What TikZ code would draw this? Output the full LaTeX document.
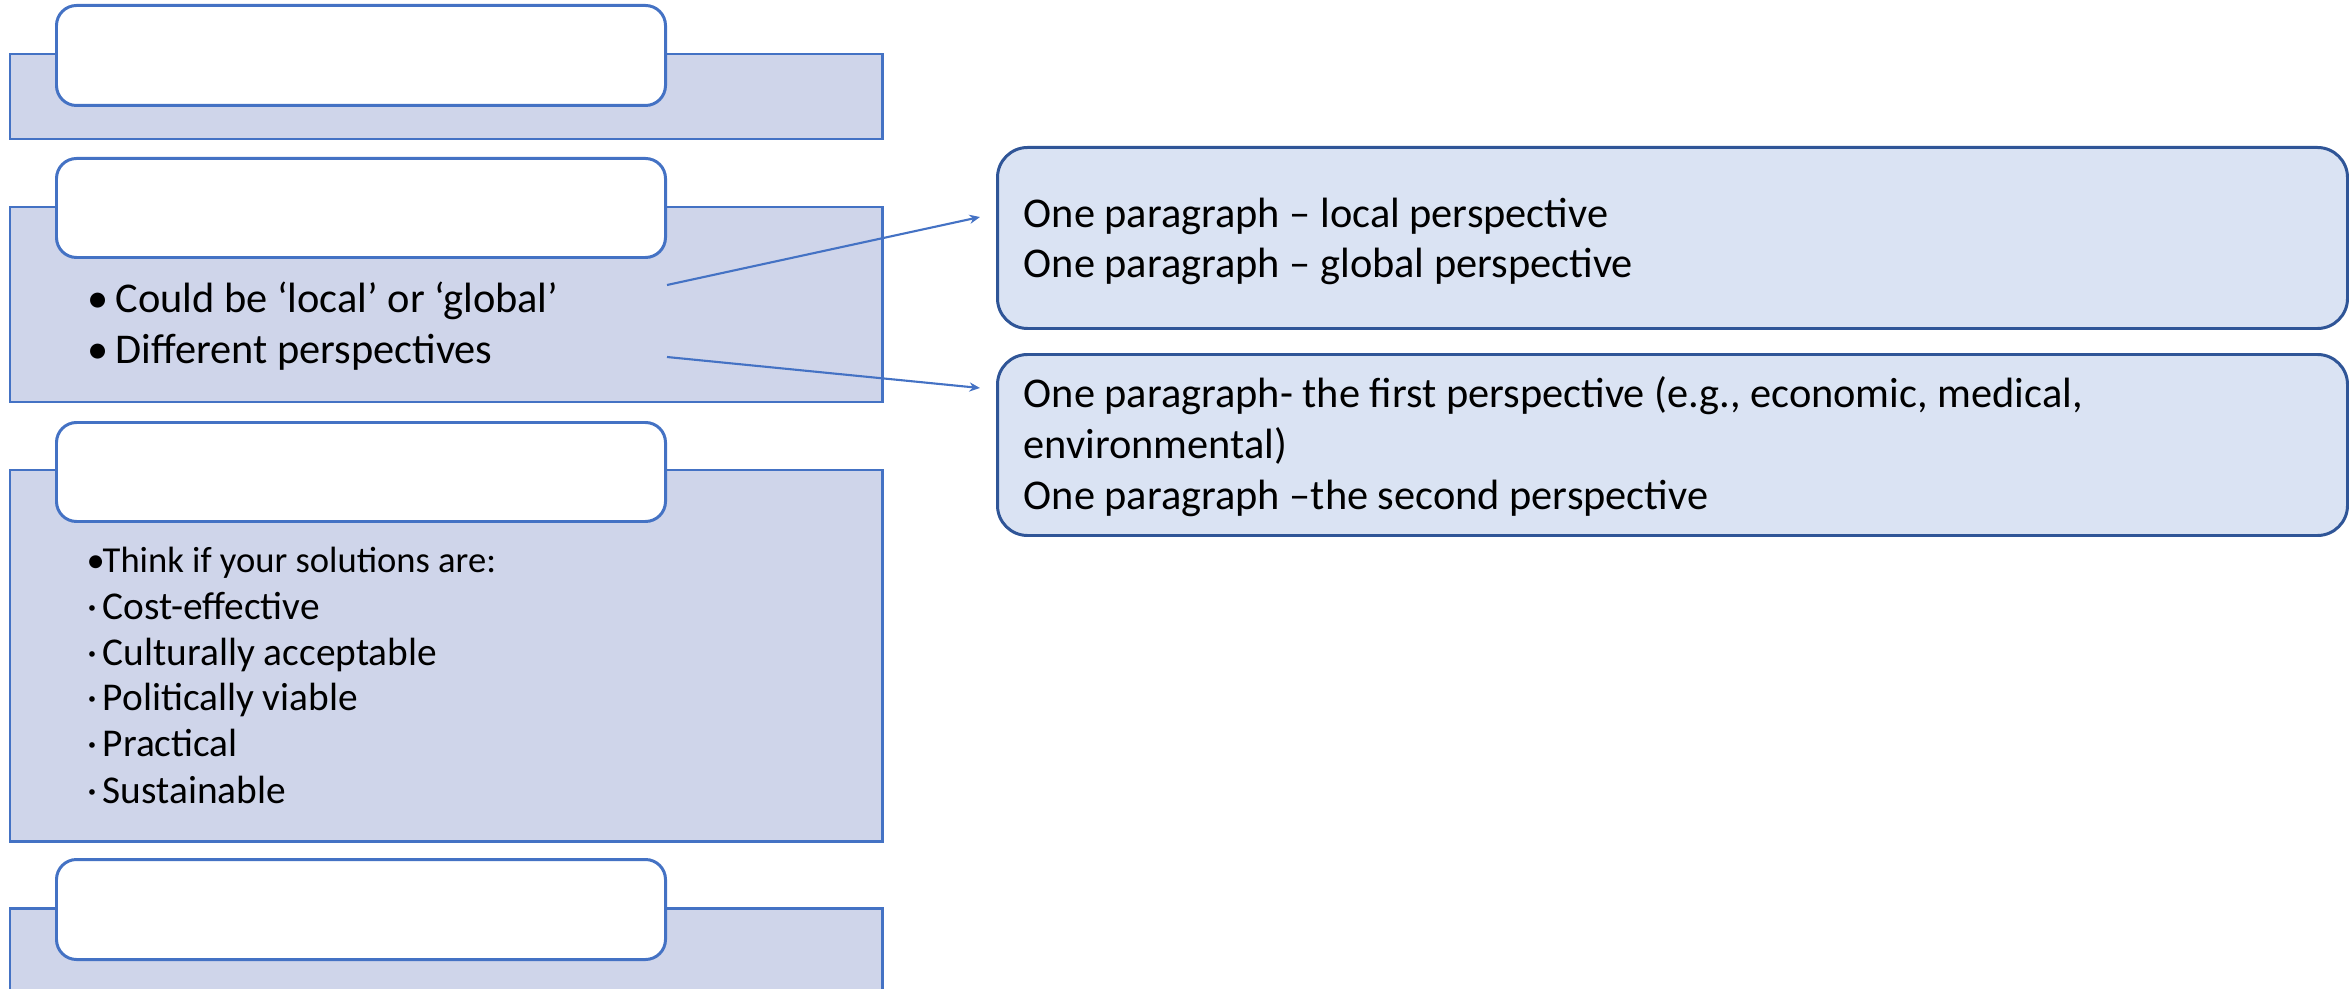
\documentclass[tikz,border=0pt]{standalone}
\usepackage{fontspec}
\setmainfont{Carlito}
\usetikzlibrary{arrows.meta}
\definecolor{bord}{RGB}{68,114,196}
\definecolor{bordR}{RGB}{47,85,151}
\definecolor{fillL}{RGB}{207,213,234}
\definecolor{fillR}{RGB}{218,227,243}
\tikzset{
  panel/.style={draw=bord, fill=fillL, line width=0.85pt},
  titlebox/.style={draw=bord, fill=white, line width=0.85pt, rounded corners=0.2cm},
  sidebox/.style={draw=bordR, fill=fillR, line width=0.85pt, rounded corners=0.3cm},
  txt/.style={anchor=base west, inner sep=0pt, font=\fontsize{12.05}{14}\selectfont},
  thinktxt/.style={anchor=base west, inner sep=0pt, font=\fontsize{10.4}{13}\selectfont},
  subtxt/.style={anchor=base west, inner sep=0pt, font=\fontsize{11.2}{13}\selectfont},
  conn/.style={draw=bord, line width=0.6pt, -{Stealth[length=3pt,width=2.6pt]}}
}
\begin{document}
\begin{tikzpicture}[x=0.01cm,y=-0.01cm]
\useasboundingbox (0,0) rectangle (2349,988);
% panels
\draw[panel] (10,54) rectangle (882,139);
\node[titlebox, minimum width=609*0.01cm, minimum height=100*0.01cm, anchor=north west] (t1) at (55,4) {};
\draw[panel] (10,207) rectangle (882,402);
\node[titlebox, minimum width=609*0.01cm, minimum height=99*0.01cm, anchor=north west] (t2) at (55,157) {};
\draw[panel] (10,470) rectangle (882,841);
\node[titlebox, minimum width=609*0.01cm, minimum height=99*0.01cm, anchor=north west] (t3) at (55,421) {};
\draw[panel] (10,908) rectangle (882,1010);
\node[titlebox, minimum width=609*0.01cm, minimum height=100*0.01cm, anchor=north west] (t4) at (55,858) {};
% panel 2 text
\node[txt] (b1) at (87,312) {\makebox[0.28cm][l]{•}Could be ‘local’ or ‘global’};
\node[txt] (b2) at (87,363) {\makebox[0.28cm][l]{•}Different perspectives};
% panel 3 text
\node[thinktxt] (c0) at (86,572) {\makebox[0.16cm][l]{•}Think if your solutions are:};
\node[subtxt] (c1) at (87,619) {\makebox[0.15cm][l]{·}Cost-effective};
\node[subtxt] (c2) at (87,665) {\makebox[0.15cm][l]{·}Culturally acceptable};
\node[subtxt] (c3) at (87,710) {\makebox[0.15cm][l]{·}Politically viable};
\node[subtxt] (c4) at (87,756) {\makebox[0.15cm][l]{·}Practical};
\node[subtxt] (c5) at (87,803) {\makebox[0.15cm][l]{·}Sustainable};
% right boxes
\node[sidebox, minimum width=1350*0.01cm, minimum height=181*0.01cm, anchor=north west] (ra) at (996,146) {};
\node[sidebox, minimum width=1350*0.01cm, minimum height=181*0.01cm, anchor=north west] (rb) at (996,353) {};
\node[txt] (a1) at (1023,227) {One paragraph – local perspective};
\node[txt] (a2) at (1023,277) {One paragraph – global perspective};
\node[txt] (bb1) at (1023,407) {One paragraph- the first perspective (e.g., economic, medical,};
\node[txt] (bb2) at (1023,458) {environmental)};
\node[txt] (bb3) at (1023,509) {One paragraph –the second perspective};
% connectors
\coordinate (s1) at (667,285);
\coordinate (s2) at (667,357);
\coordinate (e1) at (980,217);
\coordinate (e2) at (980,388);
\draw[conn] (s1) -- (e1);
\draw[conn] (s2) -- (e2);
\end{tikzpicture}
\end{document}
